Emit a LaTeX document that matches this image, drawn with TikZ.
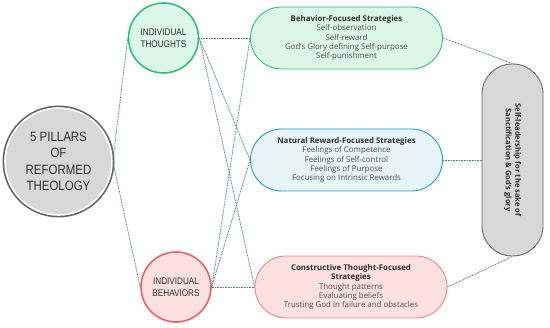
\documentclass[tikz,border=0pt]{standalone}
\usepackage{fontspec}
\setmainfont{Open Sans}
\newfontfamily\narrowfont[FakeStretch=0.85]{Liberation Sans}
\usetikzlibrary{shapes.misc}
\definecolor{linkblue}{HTML}{557A8C}
\definecolor{txtgray}{HTML}{505050}
\definecolor{txtdark}{HTML}{303030}
\definecolor{grnline}{HTML}{2FBF7F}
\definecolor{grnfill}{HTML}{DCF6E9}
\definecolor{redline}{HTML}{F25F63}
\definecolor{redfill}{HTML}{FDE1E1}
\definecolor{bluline}{HTML}{1E9AD6}
\definecolor{blufill}{HTML}{E7F5F8}
\definecolor{pinkline}{HTML}{F48181}
\definecolor{greyfill}{HTML}{D8D8D8}
\definecolor{greyline}{HTML}{666666}
\begin{document}
\begin{tikzpicture}[x=1pt,y=-1pt,
	link/.style={draw=linkblue, line width=0.9pt, dash pattern=on 0.8pt off 0.8pt},
	smallcirc/.style={circle, minimum size=70pt, inner sep=0pt, line width=1.6pt, align=center, text=txtdark, font=\narrowfont\fontsize{9.6}{12}\selectfont},
	strat/.style={rounded rectangle, minimum width=192pt, minimum height=62pt, inner sep=0pt, line width=0.9pt, align=center, text=txtgray, font=\fontsize{7.9}{9.4}\selectfont},
	every node/.style={anchor=center}]
	\useasboundingbox (0,0) rectangle (550,328);
	% left and middle circles
	\node[circle, minimum size=107pt, inner sep=0pt, fill=greyfill, draw=white, line width=1.6pt,
		preaction={draw=greyline, line width=5pt}, align=center, text=txtdark,
		font=\narrowfont\fontsize{13.5}{16.5}\selectfont] (pillars) at (58.5,161.5) {5 PILLARS\\OF\\REFORMED\\THEOLOGY};
	\node[smallcirc, draw=grnline, fill=grnfill] (thoughts) at (163.5,38) {INDIVIDUAL\\THOUGHTS};
	\node[smallcirc, draw=redline, fill=redfill] (behaviors) at (176,287) {INDIVIDUAL\\BEHAVIORS};
	% strategy boxes
	\node[strat, draw=grnline, fill=grnfill] (behav) at (346.5,38) {{\bfseries\color{txtdark}Behavior-Focused Strategies}\\Self-observation\\Self-reward\\God's Glory defining Self-purpose\\Self-punishment};
	\node[strat, draw=bluline, fill=blufill] (natural) at (346.5,160) {{\bfseries\color{txtdark}Natural Reward-Focused Strategies}\\Feelings of Competence\\Feelings of Self-control\\Feelings of Purpose\\Focusing on Intrinsic Rewards};
	\node[strat, draw=pinkline, fill=redfill] (constr) at (351,287) {{\bfseries\color{txtdark}Constructive Thought-Focused}\\{\bfseries\color{txtdark}Strategies}\\Thought patterns\\Evaluating beliefs\\Trusting God in failure and obstacles};
	\node[draw=greyline, fill=greyfill, line width=0.9pt, rounded corners=30pt, minimum width=61pt, minimum height=192pt, inner sep=0pt] (selflead) at (512.5,160) {};
	\node[rotate=-90, align=center, text=txtdark, font=\bfseries\fontsize{7.6}{9.5}\selectfont] (selftxt) at (selflead.center) {Self-leadership for the sake of\\Sanctification \& God's glory};
	% links
	\draw[link] (pillars.east) -- (thoughts.west);
	\draw[link] (pillars.east) -- (behaviors.west);
	\foreach \src in {thoughts, behaviors} {
		\draw[link] (\src.east) -- (behav.west);
		\draw[link] (\src.east) -- (natural.west);
		\draw[link] (\src.east) -- (constr.west);
	}
	\draw[link] (behav.east) -- (selflead.north);
	\draw[link] (natural.east) -- (selflead.west);
	\draw[link] (constr.east) -- (selflead.south);
\end{tikzpicture}
\end{document}
